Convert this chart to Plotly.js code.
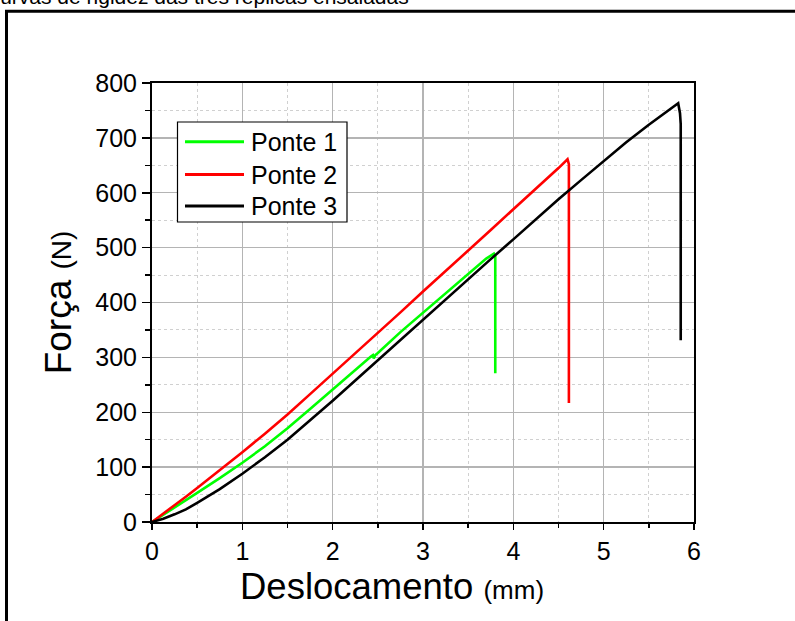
<!DOCTYPE html>
<html>
<head>
<meta charset="utf-8">
<script src="https://cdn.plot.ly/plotly-3.0.1.min.js"></script>
<style>
  html, body { margin: 0; padding: 0; background: #fff; }
  #chart { width: 795px; height: 621px; }
</style>
</head>
<body>
<div id="chart"></div>
<script>
// Load–displacement curves of the three tested bridges
const seriesNames = ['Ponte 1', 'Ponte 2', 'Ponte 3'];
const seriesColors = ['#00ff00', '#ff0000', '#000000'];

// Ponte 1
const desloc1 = [0, 0.125, 0.25, 0.375, 0.5, 0.75, 1, 1.25, 1.5, 1.75, 2, 2.25, 2.42, 2.445, 2.455, 2.47, 2.5, 2.75, 3, 3.25, 3.5, 3.7, 3.785, 3.80, 3.80];
const forca1  = [0, 13, 26, 39, 53, 80, 108, 138, 171, 206, 242, 278, 301, 304, 298, 304, 308, 346, 381, 416, 452, 480, 489, 484, 271];

// Ponte 2
const desloc2 = [0, 0.125, 0.25, 0.375, 0.5, 0.75, 1, 1.25, 1.5, 1.75, 2, 2.25, 2.5, 2.75, 3, 3.25, 3.5, 3.75, 4, 4.25, 4.5, 4.60, 4.615, 4.615];
const forca2  = [0, 15, 30, 46, 62, 94, 127, 161, 196, 233, 270, 307, 345, 382, 420, 457, 495, 532, 570, 607, 645, 661, 652, 217];

// Ponte 3
const desloc3 = [0, 0.125, 0.25, 0.375, 0.5, 0.75, 1, 1.25, 1.5, 1.75, 2, 2.25, 2.5, 2.75, 3, 3.25, 3.5, 3.75, 4, 4.25, 4.5, 4.75, 5, 5.25, 5.5, 5.7, 5.825, 5.845, 5.853, 5.853];
const forca3  = [0, 6, 14, 23, 35, 60, 88, 118, 150, 185, 221, 258, 295, 332, 369, 406, 443, 479, 515, 552, 588, 623, 658, 692, 724, 748, 763, 745, 725, 331];

// Axis ticks
const xTicks = [0, 1, 2, 3, 4, 5, 6];
const yTicks = [0, 100, 200, 300, 400, 500, 600, 700, 800];

const chartTitle = 'Curvas de rigidez das três réplicas ensaiadas';
const xTitle = 'Deslocamento';
const xUnit = '(mm)';
const yTitle = 'Força';
const yUnit = '(N)';

const FONT = 'Arial, "Liberation Sans", sans-serif';

const xs = [desloc1, desloc2, desloc3];
const ys = [forca1, forca2, forca3];

const traces = seriesNames.map((name, i) => ({
  type: 'scatter',
  mode: 'lines',
  name: name,
  x: xs[i],
  y: ys[i],
  line: { color: seriesColors[i], width: 2.6 },
  hoverinfo: 'x+y+name'
}));

// Plot area in pixels, used to place the framed legend and labels
const W = 795, H = 621;
const L = 152, R = 694, T = 83, B = 522;
const px = v => (v - L) / (R - L);
const py = v => (B - v) / (B - T);

const shapes = [
  // outer frame around the figure
  { type: 'rect', xref: 'paper', yref: 'paper',
    x0: px(6.5), x1: px(900), y0: py(700), y1: py(11.3),
    line: { color: '#000', width: 3 }, fillcolor: 'rgba(0,0,0,0)' },
  // legend box
  { type: 'rect', xref: 'paper', yref: 'paper',
    x0: px(177.5), x1: px(347), y0: py(222), y1: py(122),
    line: { color: '#000', width: 1.2 }, fillcolor: '#fff', layer: 'above' }
];

const legendRows = [141.7, 174.5, 206];
const annotations = [];

seriesNames.forEach((name, i) => {
  shapes.push({
    type: 'line', xref: 'paper', yref: 'paper',
    x0: px(185), x1: px(244), y0: py(legendRows[i]), y1: py(legendRows[i]),
    line: { color: seriesColors[i], width: 3 }, layer: 'above'
  });
  annotations.push({
    xref: 'paper', yref: 'paper', x: px(249), y: py(legendRows[i]),
    xanchor: 'left', yanchor: 'middle', showarrow: false,
    text: name, font: { family: FONT, size: 25, color: '#000' }
  });
});

annotations.push({
  xref: 'paper', yref: 'paper', x: px(411), y: py(-4),
  xanchor: 'right', yanchor: 'middle', showarrow: false,
  text: chartTitle, font: { family: FONT, size: 21, color: '#000' }
});

annotations.push({
  xref: 'paper', yref: 'paper', x: px(392), y: py(586),
  xanchor: 'center', yanchor: 'middle', showarrow: false,
  text: xTitle + ' <span style="font-size:26px">' + xUnit + '</span>',
  font: { family: FONT, size: 36.5, color: '#000' }
});

const axisBase = {
  ticks: 'outside',
  tickcolor: '#000',
  tickwidth: 1.5,
  showline: true,
  linecolor: '#000',
  linewidth: 2,
  mirror: true,
  showgrid: true,
  gridcolor: '#b4b4b4',
  gridwidth: 1.4,
  zeroline: false,
  tickfont: { family: FONT, size: 25, color: '#000' }
};

const layout = {
  width: W, height: H,
  margin: { l: L, r: W - R, t: T, b: H - B, pad: 0 },
  paper_bgcolor: '#fff',
  plot_bgcolor: '#fff',
  font: { family: FONT, color: '#000', size: 25 },
  showlegend: false,
  xaxis: Object.assign({}, axisBase, {
    range: [0, 6],
    tickmode: 'array', tickvals: xTicks, ticktext: xTicks.map(String),
    ticklen: 6,
    minor: { dtick: 0.5, ticks: 'outside', ticklen: 4, tickcolor: '#000', tickwidth: 1.5,
             showgrid: true, gridcolor: '#d0d0d0', gridwidth: 1, griddash: 'dot' }
  }),
  yaxis: Object.assign({}, axisBase, {
    range: [0, 800],
    tickmode: 'array', tickvals: yTicks, ticktext: yTicks.map(String),
    ticklen: 8,
    minor: { dtick: 50, ticks: 'outside', ticklen: 5, tickcolor: '#000', tickwidth: 1.5,
             showgrid: true, gridcolor: '#d0d0d0', gridwidth: 1, griddash: 'dot' },
    title: {
      text: yTitle + ' <span style="font-size:28px">' + yUnit + '</span>',
      font: { family: FONT, size: 37, color: '#000' },
      standoff: 12
    }
  }),
  shapes: shapes,
  annotations: annotations
};

Plotly.newPlot('chart', traces, layout, { displayModeBar: false, staticPlot: true });
</script>
</body>
</html>
